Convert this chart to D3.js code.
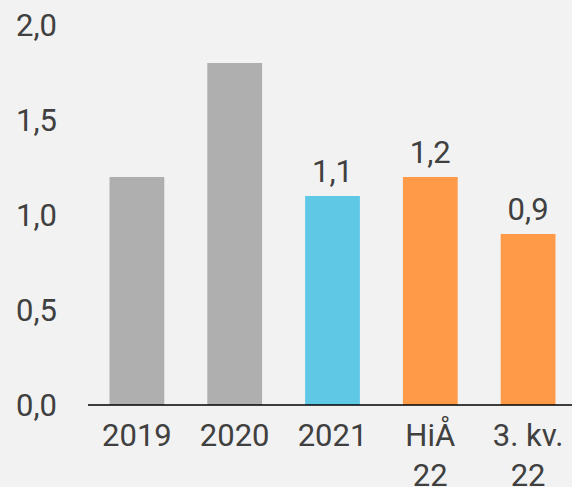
<!DOCTYPE html>
<html>
<head>
<meta charset="utf-8">
<script src="https://cdn.jsdelivr.net/npm/d3@7"></script>
<style>
    body { margin: 0; background: #f2f2f2; }
    text { font-family: Roboto, sans-serif; fill: #404040; }
</style>
</head>
<body>
<script>
// chart data
const categories = ['2019', '2020', '2021', 'HiÅ 22', '3. kv. 22'];
const values = [1.2, 1.8, 1.1, 1.2, 0.9];
const showLabel = [false, false, true, true, true];
const barColors = ['#afafaf', '#afafaf', '#5ec8e5', '#ff9a48', '#ff9a48'];
const yTicks = [0, 0.5, 1.0, 1.5, 2.0];

const svgWidth = 572;
const svgHeight = 487;
const fontSize = 31;

const svg = d3.select('body')
    .append('svg')
    .attr('width', svgWidth)
    .attr('height', svgHeight);

const x = d3.scaleBand()
    .domain(categories)
    .range([88, 577])
    .paddingInner(0.44)
    .paddingOuter(0.22);

const y = d3.scaleLinear()
    .domain([0, 2])
    .range([405, 25]);

const fmt = v => d3.format('.1f')(v).replace('.', ',');

// y labels (no axis line, no ticks)
svg.append('g')
    .selectAll('text')
    .data(yTicks)
    .enter()
    .append('text')
    .attr('x', 57)
    .attr('y', d => y(d))
    .attr('dy', '0.35em')
    .attr('text-anchor', 'end')
    .attr('font-size', fontSize)
    .text(fmt);

// bars
svg.append('g')
    .selectAll('rect')
    .data(values)
    .enter()
    .append('rect')
    .attr('x', (d, i) => x(categories[i]))
    .attr('y', d => y(d))
    .attr('width', x.bandwidth())
    .attr('height', d => y(0) - y(d))
    .attr('fill', (d, i) => barColors[i]);

// value labels
svg.append('g')
    .selectAll('text')
    .data(values.map((v, i) => ({v, i})).filter(d => showLabel[d.i]))
    .enter()
    .append('text')
    .attr('x', d => x(categories[d.i]) + x.bandwidth() / 2)
    .attr('y', d => y(d.v) - 14)
    .attr('text-anchor', 'middle')
    .attr('font-size', fontSize)
    .text(d => fmt(d.v));

// x axis baseline
svg.append('line')
    .attr('x1', 88)
    .attr('x2', svgWidth)
    .attr('y1', y(0))
    .attr('y2', y(0))
    .attr('stroke', '#000')
    .attr('stroke-width', 1.5);

// category labels, wrapped onto two lines where needed
const wrapped = {'HiÅ 22': ['HiÅ', '22'], '3. kv. 22': ['3. kv.', '22']};
const xLabels = svg.append('g')
    .selectAll('text')
    .data(categories)
    .enter()
    .append('text')
    .attr('x', d => x(d) + x.bandwidth() / 2)
    .attr('y', 446)
    .attr('text-anchor', 'middle')
    .attr('font-size', fontSize);

xLabels.selectAll('tspan')
    .data(d => wrapped[d] || [d])
    .enter()
    .append('tspan')
    .attr('x', function () { return d3.select(this.parentNode).attr('x'); })
    .attr('dy', (d, i) => i === 0 ? 0 : 40)
    .text(d => d);
</script>
</body>
</html>
